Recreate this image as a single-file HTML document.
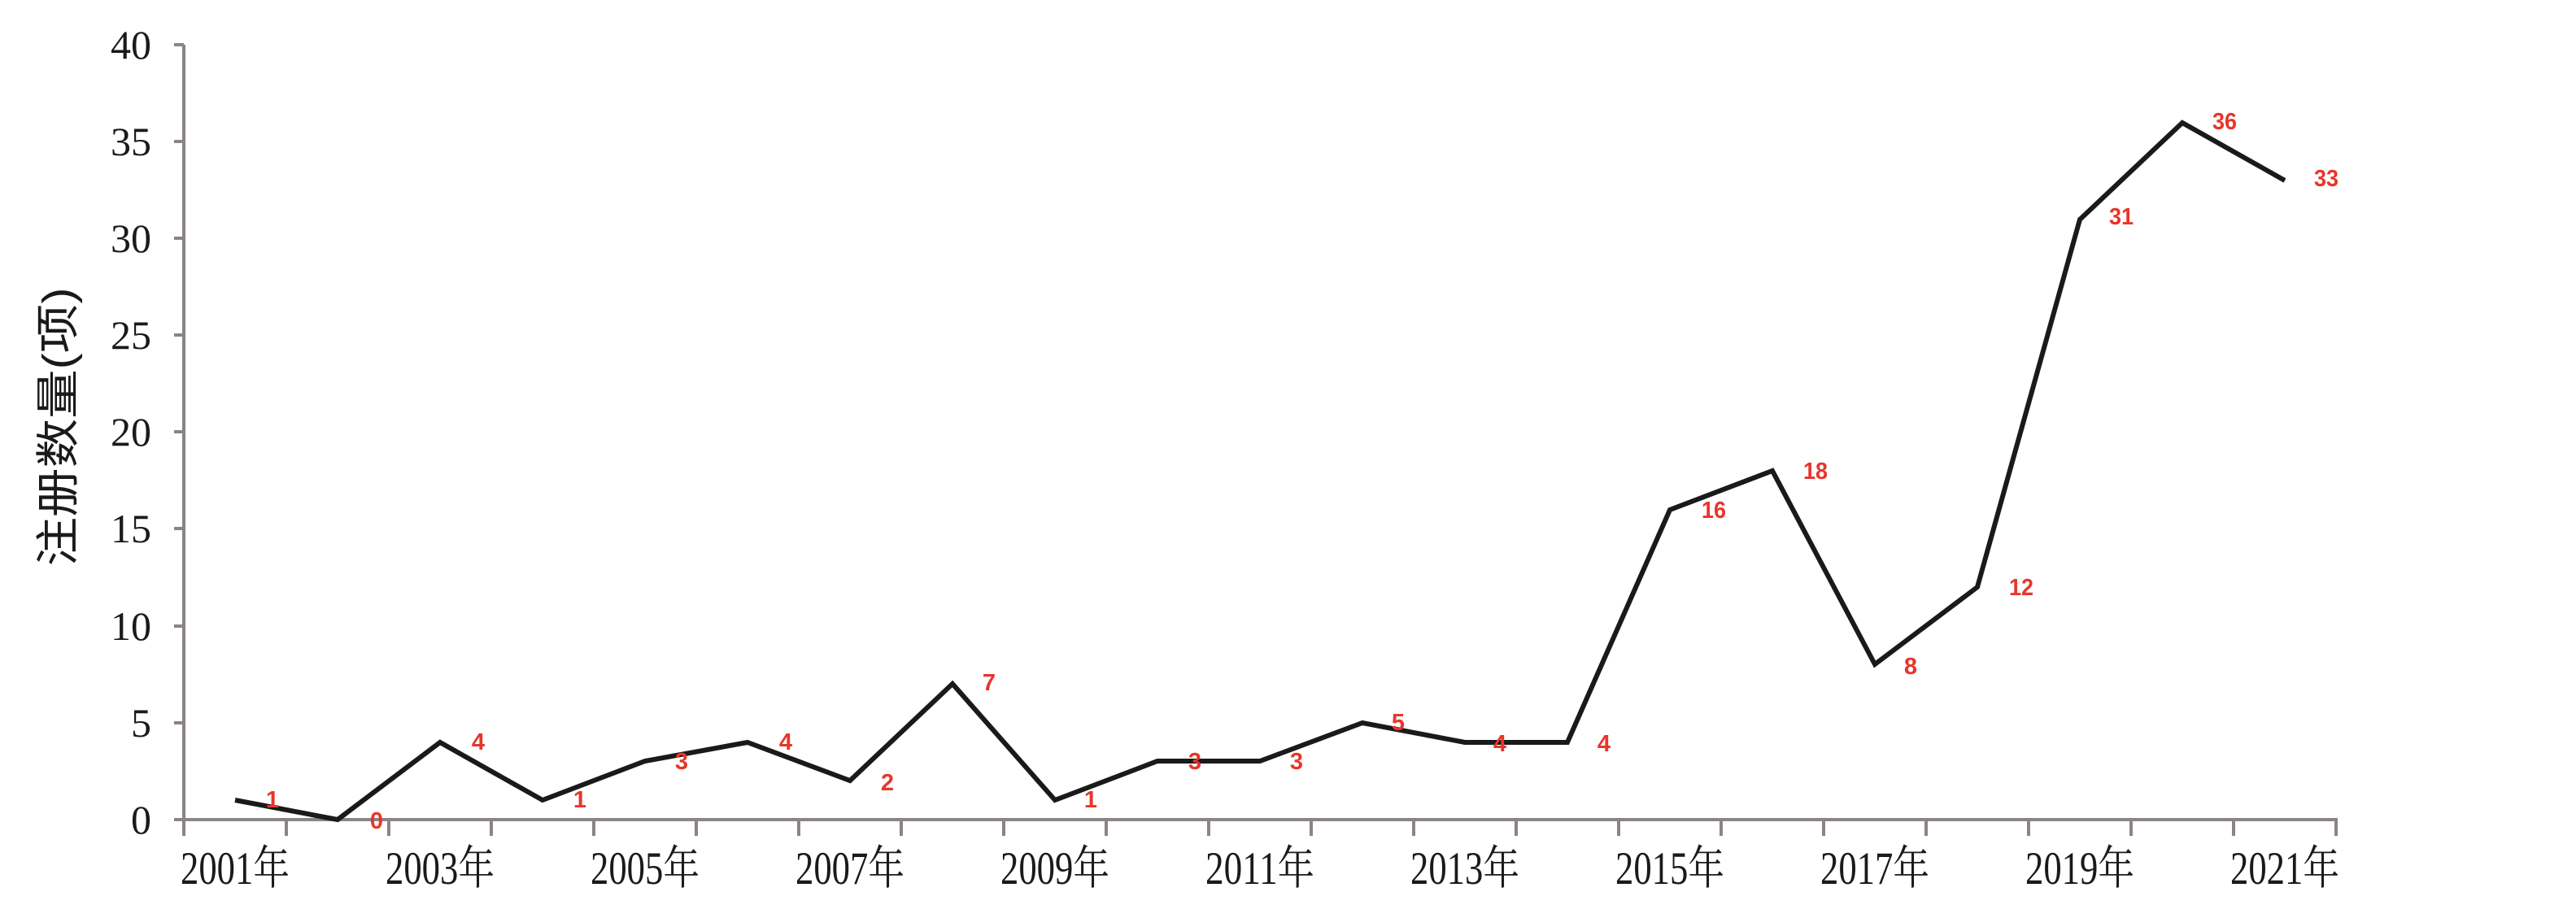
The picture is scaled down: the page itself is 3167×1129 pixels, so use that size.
<!DOCTYPE html>
<html><head><meta charset="utf-8"><style>
html,body{margin:0;padding:0;background:#fff;}
svg{display:block;}
</style></head><body>
<svg width="3167" height="1129" viewBox="0 0 3167 1129" xmlns="http://www.w3.org/2000/svg">
<rect width="3167" height="1129" fill="#fff"/>
<g stroke="#8a8584" stroke-width="4" fill="none">
<line x1="226" y1="55" x2="226" y2="1010"/>
<line x1="226" y1="1008" x2="2874" y2="1008"/>
<line x1="214" y1="55" x2="226" y2="55"/>
<line x1="214" y1="174" x2="226" y2="174"/>
<line x1="214" y1="293" x2="226" y2="293"/>
<line x1="214" y1="412" x2="226" y2="412"/>
<line x1="214" y1="531" x2="226" y2="531"/>
<line x1="214" y1="650" x2="226" y2="650"/>
<line x1="214" y1="770" x2="226" y2="770"/>
<line x1="214" y1="889" x2="226" y2="889"/>
<line x1="214" y1="1008" x2="226" y2="1008"/>
<path d="M226 1008v20M352 1008v20M478 1008v20M604 1008v20M730 1008v20M856 1008v20M982 1008v20M1108 1008v20M1234 1008v20M1360 1008v20M1486 1008v20M1612 1008v20M1738 1008v20M1864 1008v20M1990 1008v20M2116 1008v20M2242 1008v20M2368 1008v20M2494 1008v20M2620 1008v20M2746 1008v20M2872 1008v20"/>
</g>
<g font-family="Liberation Serif, serif" font-size="50" fill="#1a1a1a" text-anchor="end">
<text x="186" y="72">40</text>
<text x="186" y="191">35</text>
<text x="186" y="310">30</text>
<text x="186" y="429">25</text>
<text x="186" y="548">20</text>
<text x="186" y="667">15</text>
<text x="186" y="787">10</text>
<text x="186" y="906">5</text>
<text x="186" y="1025">0</text>
</g>
<g font-family="Liberation Serif, 'Noto Serif CJK SC', serif" font-size="57" fill="#1a1a1a" text-anchor="middle">
<text x="289" y="1087" textLength="134" lengthAdjust="spacingAndGlyphs">2001年</text>
<text x="541" y="1087" textLength="134" lengthAdjust="spacingAndGlyphs">2003年</text>
<text x="793" y="1087" textLength="134" lengthAdjust="spacingAndGlyphs">2005年</text>
<text x="1045" y="1087" textLength="134" lengthAdjust="spacingAndGlyphs">2007年</text>
<text x="1297" y="1087" textLength="134" lengthAdjust="spacingAndGlyphs">2009年</text>
<text x="1549" y="1087" textLength="134" lengthAdjust="spacingAndGlyphs">2011年</text>
<text x="1801" y="1087" textLength="134" lengthAdjust="spacingAndGlyphs">2013年</text>
<text x="2053" y="1087" textLength="134" lengthAdjust="spacingAndGlyphs">2015年</text>
<text x="2305" y="1087" textLength="134" lengthAdjust="spacingAndGlyphs">2017年</text>
<text x="2557" y="1087" textLength="134" lengthAdjust="spacingAndGlyphs">2019年</text>
<text x="2809" y="1087" textLength="134" lengthAdjust="spacingAndGlyphs">2021年</text>
</g>
<text transform="translate(90,525) rotate(-90)" font-family="'Liberation Sans','Noto Sans CJK SC',sans-serif" font-size="54" fill="#1a1a1a" text-anchor="middle" textLength="343" lengthAdjust="spacingAndGlyphs">注册数量(项)</text>
<polyline fill="none" stroke="#1a1a1a" stroke-width="6" stroke-linejoin="miter" points="289,984 415,1008 541,913 667,984 793,936 919,913 1045,960 1171,841 1297,984 1423,936 1549,936 1675,889 1801,913 1927,913 2053,627 2179,579 2305,817 2431,722 2557,270 2683,151 2809,222"/>
<g font-family="'Liberation Sans',sans-serif" font-weight="bold" font-size="29" fill="#e8352a" text-anchor="middle" dominant-baseline="central">
<text x="335" y="984">1</text>
<text x="463" y="1010">0</text>
<text x="588" y="913">4</text>
<text x="713" y="984">1</text>
<text x="838" y="937">3</text>
<text x="966" y="913">4</text>
<text x="1091" y="963">2</text>
<text x="1216" y="840">7</text>
<text x="1341" y="984">1</text>
<text x="1469" y="937">3</text>
<text x="1594" y="937">3</text>
<text x="1719" y="889">5</text>
<text x="1844" y="915">4</text>
<text x="1972" y="915">4</text>
<text x="2107" y="628" textLength="30" lengthAdjust="spacingAndGlyphs">16</text>
<text x="2232" y="580" textLength="30" lengthAdjust="spacingAndGlyphs">18</text>
<text x="2349" y="820">8</text>
<text x="2485" y="723" textLength="30" lengthAdjust="spacingAndGlyphs">12</text>
<text x="2608" y="267" textLength="30" lengthAdjust="spacingAndGlyphs">31</text>
<text x="2735" y="150" textLength="30" lengthAdjust="spacingAndGlyphs">36</text>
<text x="2860" y="220" textLength="30" lengthAdjust="spacingAndGlyphs">33</text>
</g>
</svg>
</body></html>
